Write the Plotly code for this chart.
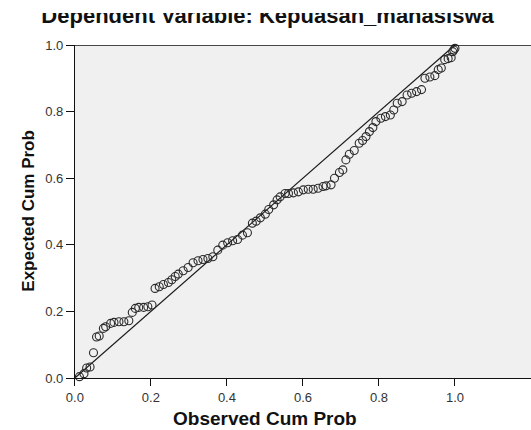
import plotly.graph_objects as go

title_text = "Dependent Variable: Kepuasan_mahasiswa"
x_title = "Observed Cum Prob"
y_title = "Expected Cum Prob"

observed = [0.012, 0.024, 0.031, 0.040, 0.049, 0.057, 0.064, 0.075, 0.081, 0.094,
            0.103, 0.116, 0.129, 0.142, 0.151, 0.159, 0.168, 0.181, 0.192, 0.203,
            0.211, 0.222, 0.233, 0.246, 0.255, 0.264, 0.272, 0.285, 0.298, 0.311,
            0.324, 0.337, 0.350, 0.363, 0.376, 0.389, 0.402, 0.415, 0.428, 0.441,
            0.454, 0.467, 0.477, 0.488, 0.501, 0.510, 0.523, 0.532, 0.540, 0.553,
            0.562, 0.575, 0.588, 0.601, 0.614, 0.627, 0.640, 0.653, 0.661, 0.674,
            0.683, 0.696, 0.705, 0.713, 0.722, 0.735, 0.748, 0.757, 0.766, 0.775,
            0.784, 0.792, 0.805, 0.817, 0.830, 0.839, 0.848, 0.861, 0.874, 0.886,
            0.899, 0.912, 0.921, 0.934, 0.947, 0.956, 0.964, 0.973, 0.982, 0.990,
            0.994, 0.997, 1.000]
expected = [0.004, 0.013, 0.030, 0.033, 0.076, 0.123, 0.126, 0.149, 0.154, 0.164,
            0.167, 0.169, 0.169, 0.172, 0.197, 0.209, 0.212, 0.212, 0.214, 0.219,
            0.269, 0.274, 0.281, 0.287, 0.295, 0.305, 0.312, 0.322, 0.332, 0.346,
            0.352, 0.356, 0.359, 0.364, 0.384, 0.399, 0.406, 0.412, 0.416, 0.429,
            0.436, 0.465, 0.471, 0.481, 0.492, 0.506, 0.520, 0.535, 0.544, 0.554,
            0.554, 0.556, 0.559, 0.565, 0.567, 0.567, 0.570, 0.575, 0.577, 0.580,
            0.600, 0.617, 0.625, 0.655, 0.672, 0.683, 0.705, 0.713, 0.725, 0.740,
            0.752, 0.770, 0.780, 0.785, 0.790, 0.805, 0.825, 0.830, 0.850, 0.855,
            0.860, 0.866, 0.900, 0.904, 0.908, 0.926, 0.931, 0.956, 0.959, 0.962,
            0.980, 0.985, 0.990]

ref_line = [0.0, 1.0]
tick_vals = [0.0, 0.2, 0.4, 0.6, 0.8, 1.0]
tick_text = ["0.0", "0.2", "0.4", "0.6", "0.8", "1.0"]

W, H = 531, 430
plot_left, plot_top, plot_bottom = 67, 45, 378
clip_top = 13

FONT = "Liberation Sans, Arial, sans-serif"

fig = go.Figure()

fig.add_trace(go.Scatter(
    x=ref_line, y=ref_line, mode="lines",
    line=dict(color="#1a1a1a", width=1.2),
    hoverinfo="skip", showlegend=False))

fig.add_trace(go.Scatter(
    x=observed, y=expected, mode="markers",
    marker=dict(symbol="circle-open", size=8, color="#2a2a2a", line=dict(width=1.1)),
    cliponaxis=False, showlegend=False))

# clipped title (top cut off as in the reference)
fig.add_trace(go.Scatter(
    x=[263 / W], y=[0.86], mode="text", text=["<b>" + title_text + "</b>"],
    textfont=dict(family=FONT, size=22, color="#111111"),
    textposition="middle center",
    xaxis="x2", yaxis="y2", cliponaxis=True,
    hoverinfo="skip", showlegend=False))

paper_h = plot_bottom - clip_top
main_top = (plot_bottom - plot_top) / paper_h

fig.update_layout(
    width=W, height=H,
    margin=dict(l=0, r=0, t=clip_top, b=H - plot_bottom, pad=0),
    paper_bgcolor="white", plot_bgcolor="white",
    font=dict(family=FONT, color="#222222"),
    xaxis=dict(domain=[plot_left / W, 1], range=[0, 1.2], showgrid=False, zeroline=False,
               showline=True, linecolor="#111111", linewidth=1,
               tickmode="array", tickvals=tick_vals, ticktext=tick_text,
               ticks="outside", ticklen=7, tickcolor="#111111", tickwidth=1,
               tickfont=dict(size=13, color="#333333"), anchor="y"),
    yaxis=dict(domain=[0, main_top], range=[0, 1], showgrid=False, zeroline=False,
               showline=True, linecolor="#111111", linewidth=1,
               tickmode="array", tickvals=tick_vals, ticktext=tick_text,
               ticks="outside", ticklen=8, tickcolor="#111111", tickwidth=1,
               tickfont=dict(size=13, color="#333333"), anchor="x"),
    xaxis2=dict(domain=[0, 1], range=[0, 1], visible=False, anchor="y2"),
    yaxis2=dict(domain=[main_top, 1], range=[0, 1], visible=False, anchor="x2"),
    shapes=[
        dict(type="rect", xref="x", yref="y", x0=0, x1=1.2, y0=0, y1=1,
             fillcolor="#f0f0f0", line=dict(width=0), layer="below"),
        dict(type="line", xref="x", yref="y", x0=0, x1=1.2, y0=1, y1=1,
             line=dict(color="#111111", width=1.5), layer="above"),
    ],
    annotations=[
        dict(text="<b>" + x_title + "</b>", xref="paper", yref="paper",
             x=260 / W, y=(plot_bottom - 418) / paper_h,
             xanchor="center", yanchor="middle",
             showarrow=False, font=dict(size=19, color="#111111", family=FONT)),
        dict(text="<b>" + y_title + "</b>", xref="paper", yref="paper",
             x=19 / W, y=(plot_bottom - 211) / paper_h,
             xanchor="center", yanchor="middle",
             textangle=-90, showarrow=False, font=dict(size=17, color="#111111", family=FONT)),
    ],
)

# remove the browser's default 8px page margin so the figure fills the window
fig.write_html("out.html", config={"displayModeBar": False},
               post_script="document.body.style.margin='0';")
